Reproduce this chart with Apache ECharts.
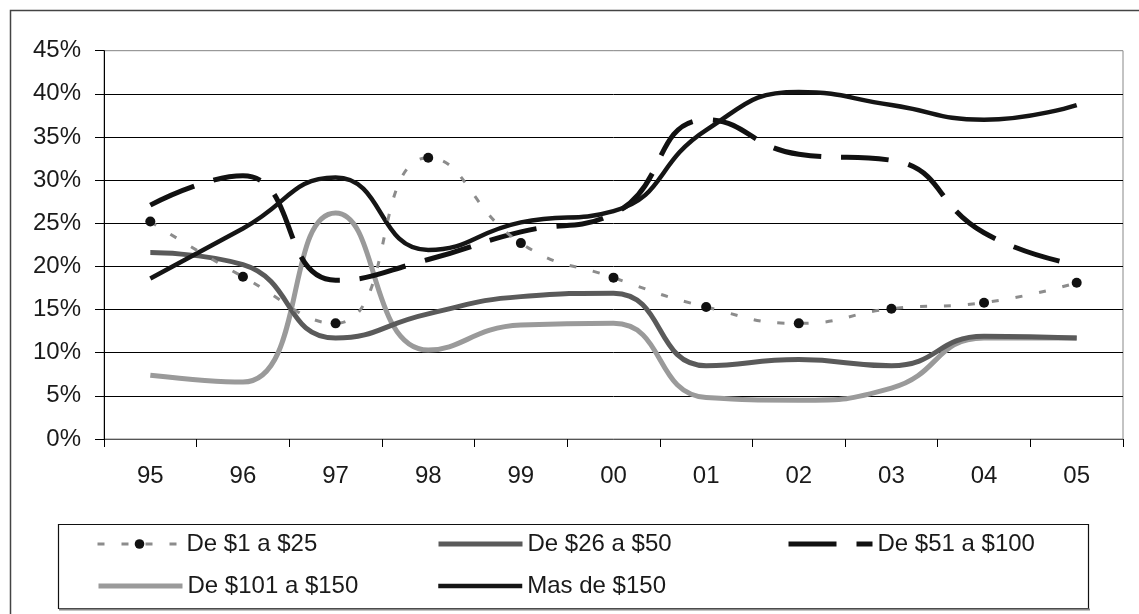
<!DOCTYPE html>
<html>
<head>
<meta charset="utf-8">
<script src="https://cdn.jsdelivr.net/npm/echarts@6/dist/echarts.min.js"></script>
<style>
html,body{margin:0;padding:0;background:#fff;}
#chart{width:1139px;height:614px;}
</style>
</head>
<body>
<div id="chart"></div>
<script>
var categories = ['95','96','97','98','99','00','01','02','03','04','05'];
var seriesNames = ['De $1 a $25','De $26 a $50','De $51 a $100','De $101 a $150','Mas de $150'];
var de1a25    = [25.2, 18.8, 13.4, 32.6, 22.7, 18.7, 15.3, 13.4, 15.1, 15.8, 18.1];
var de26a50   = [21.6, 20.2, 11.7, 14.5, 16.5, 16.9, 8.5, 9.2, 8.5, 11.9, 11.7];
var de51a100  = [27.1, 30.5, 18.4, 20.8, 24.0, 26.1, 37.0, 33.0, 32.3, 23.9, 20.2];
var de101a150 = [7.4, 6.6, 26.2, 10.3, 13.2, 13.4, 4.8, 4.5, 5.9, 11.7, 11.7];
var mas150    = [18.6, 24.4, 30.3, 21.9, 25.1, 26.4, 35.8, 40.2, 38.7, 37.0, 38.7];

var FONT = '"Liberation Sans", Arial, sans-serif';
var chart = echarts.init(document.getElementById('chart'), null, {renderer:'canvas'});

function legendAt(name, left, top, showMarker){
  return {
    data:[name], left:left, top:top, orient:'horizontal',
    itemWidth:84, itemHeight:12, padding:0,
    lineStyle:{width:'inherit'},
    itemStyle: showMarker ? {} : {color:'rgba(0,0,0,0)', borderWidth:0, opacity:0},
    textStyle:{fontFamily:FONT, fontSize:24, color:'#1a1a1a'}
  };
}

var option = {
  backgroundColor:'#fff',
  animation:false,
  grid:{left:104, top:50.7, right:16, bottom:175, show:true, borderColor:'#888', borderWidth:1, backgroundColor:'transparent'},
  xAxis:{
    type:'category', data:categories, boundaryGap:true,
    axisLine:{lineStyle:{color:'#555', width:1}},
    axisTick:{show:true, length:8, lineStyle:{color:'#000'}},
    axisLabel:{fontFamily:FONT, fontSize:24, color:'#1a1a1a', margin:25}
  },
  yAxis:{
    type:'value', min:0, max:45, interval:5,
    axisLine:{show:true, lineStyle:{color:'#000', width:1}},
    axisTick:{show:true, length:9, lineStyle:{color:'#000'}},
    axisLabel:{fontFamily:FONT, fontSize:24, color:'#1a1a1a', margin:23, formatter:'{value}%'},
    splitLine:{show:true, lineStyle:{color:['#888','#000','#000','#000','#000','#000','#000','#000','#000','#999'], width:1}}
  },
  legend:[
    legendAt(seriesNames[0], 96, 532, true),
    legendAt(seriesNames[1], 436, 532, false),
    legendAt(seriesNames[2], 786, 532, false),
    legendAt(seriesNames[3], 96, 574, false),
    legendAt(seriesNames[4], 436, 574, false)
  ],
  graphic:[
    {type:'rect', shape:{x:10.5, y:10.5, width:1140, height:620}, style:{fill:'none', stroke:'#444', lineWidth:1.5}, z:-10, silent:true},
    {type:'rect', shape:{x:58.5, y:524.5, width:1030, height:84}, style:{fill:'none', stroke:'#111', lineWidth:1.2}, z:-5, silent:true},
    {type:'line', shape:{x1:59, y1:609.5, x2:1090, y2:609.5}, style:{stroke:'#888', lineWidth:2}, z:-5, silent:true}
  ],
  series:[
    {name:seriesNames[0], type:'line', data:de1a25, smooth:true, symbol:'circle', symbolSize:10,
     itemStyle:{color:'#111'}, lineStyle:{color:'#8c8c8c', width:3, type:[7,17]}, z:5},
    {name:seriesNames[1], type:'line', data:de26a50, smooth:true, symbol:'none',
     itemStyle:{color:'#5a5a5a'}, lineStyle:{color:'#5a5a5a', width:5}, z:3},
    {name:seriesNames[2], type:'line', data:de51a100, smooth:true, symbol:'none',
     itemStyle:{color:'#111'}, lineStyle:{color:'#111', width:5, type:[48,20]}, z:4},
    {name:seriesNames[3], type:'line', data:de101a150, smooth:true, symbol:'none',
     itemStyle:{color:'#9a9a9a'}, lineStyle:{color:'#9a9a9a', width:5}, z:2},
    {name:seriesNames[4], type:'line', data:mas150, smooth:true, symbol:'none',
     itemStyle:{color:'#151515'}, lineStyle:{color:'#151515', width:4.5}, z:4}
  ]
};
chart.setOption(option);
</script>
</body>
</html>
